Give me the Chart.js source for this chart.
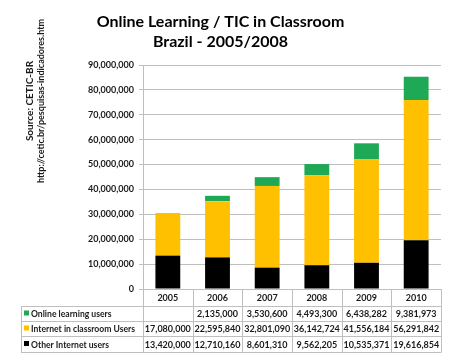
<!DOCTYPE html>
<html>
<head>
<meta charset="utf-8">
<script src="https://cdn.jsdelivr.net/npm/chart.js@4"></script>
<style>
html,body{margin:0;padding:0;background:#fff;}
#wrap{width:455px;height:357px;}
</style>
</head>
<body>
<div id="wrap"><canvas id="c" width="455" height="357"></canvas></div>
<script>
const categories = ['2005', '2006', '2007', '2008', '2009', '2010'];
const onlineLearningUsers = [null, 2135000, 3530600, 4493300, 6438282, 9381973];
const internetClassroomUsers = [17080000, 22595840, 32801090, 36142724, 41556184, 56291842];
const otherInternetUsers = [13420000, 12710160, 8601310, 9562205, 10535371, 19616854];
const seriesLabels = ['Online learning users', 'Internet in classroom Users', 'Other Internet users'];
const yMax = 90000000;
const yStep = 10000000;
const titleLines = ['Online Learning / TIC in Classroom', 'Brazil - 2005/2008'];
const sourceLines = ['Source: CETIC-BR', 'http://cetic.br/pesquisas-indicadores.htm'];

const GREEN = '#1fa855', YELLOW = '#ffc000', BLACK = '#000000';
const FONT = 'Lato, "Open Sans", sans-serif';
const fmt = v => (v === null || v === undefined) ? '' : v.toLocaleString('en-US');

const tablePlugin = {
  id: 'tablePlugin',
  afterDraw(chart) {
    const ctx = chart.ctx, xs = chart.scales.x, area = chart.chartArea;
    const n = categories.length;
    const cw = (area.right - area.left) / n;
    const top = Math.round(area.bottom);
    const rows = [top, top + 17, top + 32, top + 47, top + 63];
    const legendLeft = 21;
    ctx.save();
    ctx.strokeStyle = '#bfbfbf';
    ctx.lineWidth = 1;
    ctx.beginPath();
    for (let r = 1; r < rows.length; r++) {
      ctx.moveTo(legendLeft, rows[r] + 0.5);
      ctx.lineTo(area.right, rows[r] + 0.5);
    }
    for (let i = 0; i <= n; i++) {
      const x = Math.round(area.left + i * cw) + 0.5;
      ctx.moveTo(x, rows[0]);
      ctx.lineTo(x, rows[4] + 0.5);
    }
    ctx.moveTo(legendLeft + 0.5, rows[1]);
    ctx.lineTo(legendLeft + 0.5, rows[4] + 0.5);
    ctx.stroke();

    ctx.fillStyle = '#1a1a1a';
    ctx.textBaseline = 'middle';
    ctx.textAlign = 'center';
    ctx.font = 'bold 9px ' + FONT;
    categories.forEach((c, i) => {
      ctx.fillText(c, xs.getPixelForValue(i), (rows[0] + rows[1]) / 2 + 1);
    });
    const tableSeries = [onlineLearningUsers, internetClassroomUsers, otherInternetUsers];
    const colors = [GREEN, YELLOW, BLACK];
    tableSeries.forEach((s, r) => {
      const yc = (rows[r + 1] + rows[r + 2]) / 2 + 1;
      ctx.textAlign = 'center';
      ctx.fillStyle = '#1a1a1a';
      ctx.font = 'bold 9px ' + FONT;
      s.forEach((v, i) => ctx.fillText(fmt(v), xs.getPixelForValue(i), yc));
      ctx.fillStyle = colors[r];
      ctx.fillRect(legendLeft + 3, yc - 4, 5, 5);
      ctx.fillStyle = '#1a1a1a';
      ctx.textAlign = 'left';
      ctx.font = 'bold 8.6px ' + FONT;
      ctx.fillText(seriesLabels[r], legendLeft + 10, yc);
    });

    // Source text (rotated)
    ctx.save();
    ctx.textAlign = 'center';
    ctx.textBaseline = 'middle';
    ctx.translate(30, 101);
    ctx.rotate(-Math.PI / 2);
    ctx.font = 'bold 10px ' + FONT;
    ctx.fillText(sourceLines[0], 0, 0);
    ctx.font = 'bold 9px ' + FONT;
    ctx.fillText(sourceLines[1], 0, 11);
    ctx.restore();
    ctx.restore();
  }
};

new Chart(document.getElementById('c'), {
  type: 'bar',
  data: {
    labels: categories,
    datasets: [
      { label: seriesLabels[2], data: otherInternetUsers, backgroundColor: BLACK },
      { label: seriesLabels[1], data: internetClassroomUsers, backgroundColor: YELLOW },
      { label: seriesLabels[0], data: onlineLearningUsers, backgroundColor: GREEN }
    ]
  },
  options: {
    responsive: false,
    animation: false,
    layout: { padding: { left: 0, right: 14, top: 0, bottom: 68 } },
    datasets: { bar: { barPercentage: 0.5, categoryPercentage: 1 } },
    plugins: {
      legend: { display: false },
      tooltip: { enabled: false },
      title: {
        display: true,
        text: titleLines,
        color: '#000',
        font: { family: FONT, size: 16, weight: 'bold', lineHeight: 1.25 },
        padding: { top: 12, bottom: 13 }
      }
    },
    scales: {
      x: { display: false, stacked: true },
      y: {
        stacked: true,
        min: 0,
        max: yMax,
        afterFit: s => { s.width = 143; },
        border: { display: true, color: '#bfbfbf' },
        grid: { color: '#bfbfbf', tickLength: 4 },
        ticks: {
          stepSize: yStep,
          padding: 5,
          color: '#1a1a1a',
          font: { family: FONT, size: 9, weight: 'bold' },
          callback: v => v.toLocaleString('en-US')
        }
      }
    }
  },
  plugins: [tablePlugin]
});
</script>
</body>
</html>
